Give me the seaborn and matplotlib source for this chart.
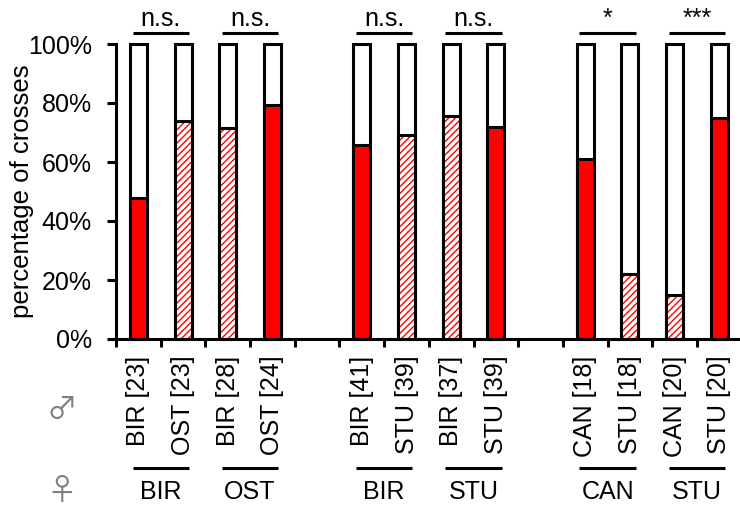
import matplotlib
matplotlib.use("Agg")
import matplotlib.pyplot as plt
import seaborn as sns
import pandas as pd
import numpy as np

# ---- data ----
males = ["BIR", "OST", "BIR", "OST", "BIR", "STU", "BIR", "STU", "CAN", "STU", "CAN", "STU"]
females = ["BIR", "BIR", "OST", "OST", "BIR", "BIR", "STU", "STU", "CAN", "CAN", "STU", "STU"]
n_crosses = [23, 23, 28, 24, 41, 39, 37, 39, 18, 18, 20, 20]
percent = [47.8, 73.9, 71.4, 79.2, 65.9, 69.2, 75.7, 71.8, 61.1, 22.2, 15.0, 75.0]
significance = ["n.s.", "n.s.", "n.s.", "n.s.", "*", "***"]
yticks = [0, 20, 40, 60, 80, 100]

plt.rcParams["font.family"] = ["Liberation Sans", "DejaVu Sans"]
plt.rcParams["hatch.linewidth"] = 1.0

idx = np.arange(len(males))
pos = idx + idx // 4
df = pd.DataFrame({"pos": pos, "pct": percent, "full": [100] * len(males),
                   "male": males, "female": females, "n": n_crosses})
hatched = [m != f for m, f in zip(males, females)]

fig = plt.figure(figsize=(7.4, 5.07), dpi=100)
ax = fig.add_axes([116 / 740, 1 - 339 / 507, (741.7 - 116) / 740, 295 / 507])

LW = 2.2
BW = 0.38

# full white bars (100 %)
sns.barplot(data=df, x="pos", y="full", native_scale=True, width=BW, color="white",
            edgecolor="black", linewidth=LW, saturation=1, errorbar=None, ax=ax)
for p in ax.containers[-1]:
    p.set_clip_on(False)

# red part
sns.barplot(data=df, x="pos", y="pct", native_scale=True, width=BW, color="red",
            linewidth=0, saturation=1, errorbar=None, ax=ax)
for p, h in zip(ax.containers[-1], hatched):
    if h:
        p.set_facecolor("white")
        p.set_edgecolor("red")
        p.set_hatch("/////")
        p.set_linewidth(0)
    else:
        p.set_facecolor("red")
        p.set_linewidth(0)

# outline of red part
sns.barplot(data=df, x="pos", y="pct", native_scale=True, width=BW, color="black",
            fill=False, linewidth=LW, saturation=1, errorbar=None, ax=ax)
for p in ax.containers[-1]:
    p.set_edgecolor("black")
    p.set_facecolor("none")

ax.set_xlim(-0.5, pos.max() + 0.5)
ax.set_ylim(0, 100)

# axes styling
for s in ["top", "right"]:
    ax.spines[s].set_visible(False)
for s in ["left", "bottom"]:
    ax.spines[s].set_linewidth(LW)

ax.set_yticks(yticks, [f"{v}%" for v in yticks])
ax.tick_params(axis="y", length=6.5, width=LW, labelsize=18, pad=11)

ax.set_xticks(np.arange(-0.5, pos.max() + 1, 1.0))
ax.set_xticklabels([])
ax.tick_params(axis="x", which="major", length=5.5, width=LW)
ax.set_xticks(pos, [f"{m} [{n}]" for m, n in zip(males, n_crosses)], minor=True)
ax.tick_params(axis="x", which="minor", length=0, pad=12, labelsize=18, labelrotation=90)

ax.set_xlabel("")
ax.set_ylabel("percentage of crosses", fontsize=18.5)
ax.yaxis.set_label_coords(-0.131, 0.5)

def yf(ypx):
    return (339 - ypx) / 295

tr = ax.get_xaxis_transform()
for k in range(len(significance)):
    p0, p1 = pos[2 * k], pos[2 * k + 1]
    ax.plot([p0 - 0.13, p1 + 0.13], [yf(32.5)] * 2, transform=tr, color="black",
            lw=LW, clip_on=False, solid_capstyle="butt")
    ax.text((p0 + p1) / 2, yf(26), significance[k], transform=tr, ha="center",
            va="baseline", fontsize=18)
    # female group
    ax.plot([p0 - 0.13, p1 + 0.13], [yf(468)] * 2, transform=tr, color="black",
            lw=LW, clip_on=False, solid_capstyle="butt")
    ax.text((p0 + p1) / 2, yf(492), females[2 * k], transform=tr, ha="center",
            va="center", fontsize=18)

sym_family = ["Noto Sans CJK JP", "DejaVu Sans"]
fig.text(62 / 740, 1 - 410 / 507, "\u2642", ha="center", va="center", fontsize=22,
         color="#808080", family=sym_family)
fig.text(62 / 740, 1 - 491 / 507, "\u2640", ha="center", va="center", fontsize=22,
         color="#808080", family=sym_family)

fig.savefig("out.png", dpi=100)
